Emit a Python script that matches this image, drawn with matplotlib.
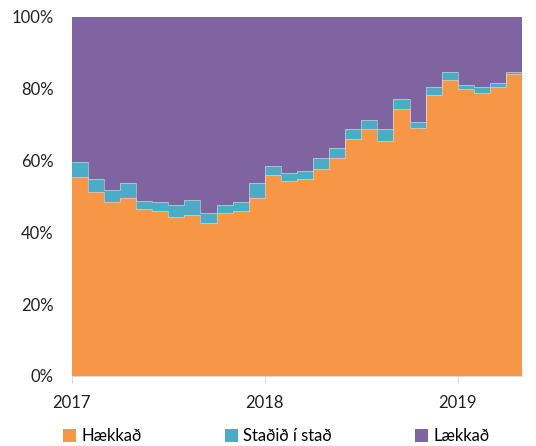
import matplotlib
matplotlib.use("Agg")
import matplotlib.pyplot as plt
import numpy as np
from matplotlib.patches import Patch

plt.rcParams['font.family'] = ['Lato', 'DejaVu Sans']

# Monthly shares (%) Jan 2017 - Apr 2019
haekkad = [55.5, 51.3, 48.4, 49.5, 46.6, 46.0, 44.3, 44.8, 42.5, 45.4, 46.0, 49.5,
           56.0, 54.3, 54.9, 57.7, 60.6, 66.0, 68.9, 65.5, 74.3, 69.0, 78.3, 82.3,
           79.9, 78.7, 80.5, 84.0]
stadid = [4.0, 3.5, 3.4, 4.2, 2.2, 2.4, 3.3, 4.1, 2.9, 2.2, 2.4, 4.2,
          2.4, 2.2, 2.2, 2.9, 2.9, 2.9, 2.3, 3.4, 2.8, 1.8, 2.1, 2.3,
          1.1, 1.7, 1.0, 0.6]
years = ['2017', '2018', '2019']
labels = ['Hækkað', 'Staðið í stað', 'Lækkað']
colors = ['#F79646', '#4BACC6', '#8064A2']

h = np.array(haekkad)
s = np.array(stadid)
l = 100 - h - s
n = len(h)
edges = np.arange(n + 1)

fig = plt.figure(figsize=(5.36, 4.46), dpi=100)
ax = fig.add_axes([0.134, 0.157, 0.840, 0.805])

ax.stairs(h, edges, baseline=0, fill=True, color=colors[0], lw=0)
ax.stairs(h + s, edges, baseline=h, fill=True, color=colors[1], lw=0)
ax.stairs(h + s + l, edges, baseline=h + s, fill=True, color=colors[2], lw=0)
ax.stairs(h, edges, baseline=None, color='#d9d9d9', lw=0.6, alpha=0.7)
ax.stairs(h + s, edges, baseline=None, color='#d9d9d9', lw=0.6, alpha=0.7)

ax.set_xlim(0, n)
ax.set_ylim(0, 100)
ax.set_yticks(np.arange(0, 101, 20))
ax.set_yticklabels([f'{v}%' for v in range(0, 101, 20)])
ax.set_xticks([0, 12, 24])
ax.set_xticklabels(years)

for sp in ['top', 'right', 'left']:
    ax.spines[sp].set_visible(False)
ax.spines['bottom'].set_color('#d9d9d9')
ax.tick_params(axis='y', length=0, labelsize=12, colors='#222222', pad=13)
ax.tick_params(axis='x', length=5, color='#d9d9d9', labelsize=12, colors='#222222', pad=9)
for t in ax.get_xticklabels():
    t.set_color('#222222')

handles = [Patch(facecolor=c, edgecolor='none') for c in colors]
fig.legend(handles, labels, loc='lower center', ncol=3, frameon=False,
           bbox_to_anchor=(0.515, -0.03), fontsize=12, handlelength=0.8,
           handleheight=0.8, handletextpad=0.3, columnspacing=5.0)

fig.savefig('out.png', dpi=100)
